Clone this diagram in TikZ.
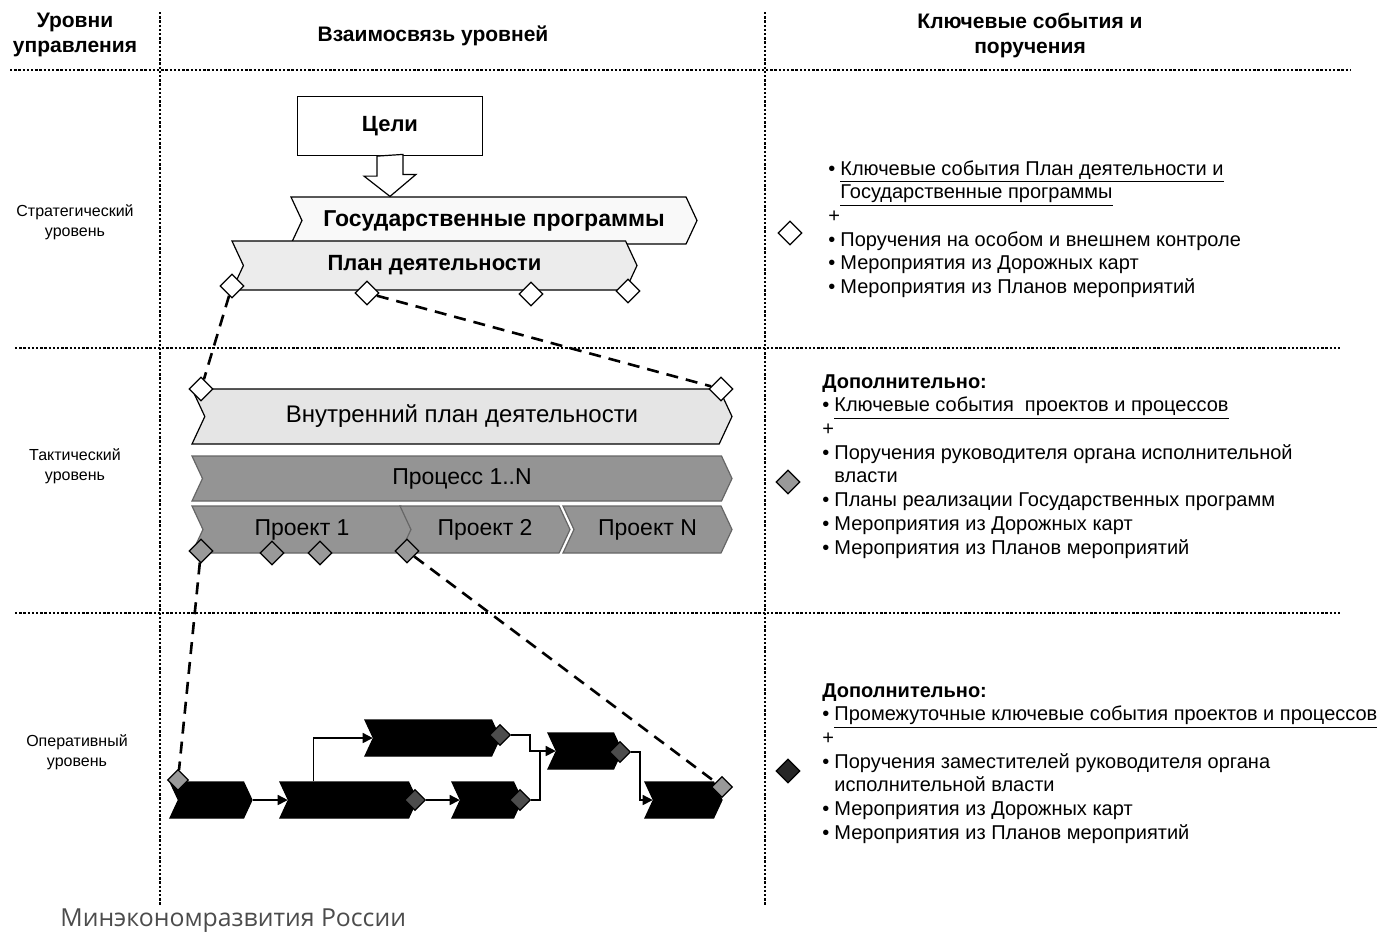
\documentclass[tikz,border=0pt]{standalone}
\usepackage{fontspec}
\setmainfont{Liberation Sans}
\newfontfamily\footfont{Open Sans}
\usetikzlibrary{shapes.symbols,shapes.geometric,arrows.meta}
\newcommand\bul{\makebox[6pt][l]{\textbullet}}
\newcommand\ind{\hspace*{6pt}}

\begin{document}
\begin{tikzpicture}[x=0.5pt,y=-0.5pt,
  gridline/.style={line width=0.7pt,dash pattern=on 1.2pt off 0.9pt},
  head/.style={font=\fontsize{10.5}{12.5}\selectfont\bfseries,align=center},
  level/.style={font=\fontsize{8}{10}\selectfont,align=center},
  chev/.style={signal,signal from=west,signal to=east,signal pointer angle=130,inner sep=0pt,line width=0.6pt},
  topbar/.style={chev,draw,fill=gray!10},
  procbar/.style={chev,draw=black!60,fill=black!42,minimum height=22.5pt,font=\fontsize{11.5}{13}\selectfont},
  taskbar/.style={chev,draw,fill=black,minimum height=18pt},
  wdiam/.style={diamond,draw,fill=white,inner sep=0pt,minimum size=12pt,line width=0.6pt},
  gdiam/.style={wdiam,fill=black!40},
  kdiam/.style={wdiam,fill=black!70,minimum size=10.5pt},
  linkline/.style={line width=1.3pt,dash pattern=on 6pt off 4pt},
  flowline/.style={line width=0.8pt,-{Triangle[length=5pt,width=5pt]}},
  notes/.style={anchor=north west,inner sep=0pt,align=left,font=\fontsize{10}{11.85}\selectfont}]
  \useasboundingbox (0,0) rectangle (1385,934);

  \draw[gridline] (10,70) -- (1350,70);
  \draw[gridline] (15,348) -- (1340,348);
  \draw[gridline] (15,613) -- (1340,613);
  \draw[gridline] (160,12) -- (160,905);
  \draw[gridline] (765,12) -- (765,905);

  \node[head] (hlevels) at (75,35) {Уровни\\управления};
  \node[head] (hlink) at (433,36) {Взаимосвязь уровней};
  \node[head] (hevents) at (1030,35) {Ключевые события и\\поручения};

  \node[level] (strat) at (75,222) {Стратегический\\уровень};
  \node[level] (tact) at (75,466) {Тактический\\уровень};
  \node[level] (oper) at (77,752) {Оперативный\\уровень};

  \node[draw,fill=white,minimum width=92.5pt,minimum height=29.5pt,inner sep=0pt,line width=0.6pt,
    font=\fontsize{11}{13}\selectfont\bfseries] (goals) at (390,126) {Цели};
  \node[topbar,fill=gray!5,minimum width=203pt,minimum height=23.5pt,
    font=\fontsize{11.5}{13}\selectfont\bfseries] (govprog) at (494,220.5) {Государственные программы};
  \node[topbar,fill=gray!15,minimum width=202.5pt,minimum height=24.5pt,
    font=\fontsize{11}{13}\selectfont\bfseries] (plan) at (434.5,265.5) {План деятельности};
  \draw[fill=white,line width=0.6pt] ([xshift=-6.5pt]goals.south) -- ++(0,20) -- ++(-13,0)
    -- (goals.south |- govprog.north) -- ++(26,-22) -- ++(-13,0) -- ++(0,-20) -- cycle;

  \node[wdiam] (pd1) at (232,286) {};
  \node[wdiam] (pd2) at (367,293) {};
  \node[wdiam] (pd3) at (531,294) {};
  \node[wdiam] (pd4) at (628,291) {};

  \node[topbar,fill=gray!20,minimum width=270pt,minimum height=27.5pt,
    font=\fontsize{12}{14}\selectfont] (intplan) at (462,416.5) {Внутренний план деятельности};
  \node[procbar,minimum width=270pt] (process) at (462,478.5) {Процесс 1..N};
  \node[procbar,minimum width=110pt,minimum height=23.5pt] (proj1) at (302,529.5) {Проект 1};
  \node[procbar,minimum width=85pt,minimum height=23.5pt] (proj2) at (485,529.5) {Проект 2};
  \node[procbar,minimum width=84.5pt,minimum height=23.5pt] (projn) at (647.5,529.5) {Проект N};

  \node[wdiam] (ip1) at (201,389) {};
  \node[wdiam] (ip2) at (721,389) {};
  \node[gdiam] (pj1) at (201,551) {};
  \node[gdiam] (pj2) at (272,553) {};
  \node[gdiam] (pj3) at (320,553) {};
  \node[gdiam] (pj4) at (407,551) {};

  \node[taskbar,minimum width=41pt] (ta) at (211,800) {};
  \node[taskbar,minimum width=68.5pt] (tb) at (348.5,800) {};
  \node[taskbar,minimum width=67.5pt] (tc) at (432.5,738) {};
  \node[taskbar,minimum width=35pt] (td) at (487,800) {};
  \node[taskbar,minimum width=37pt] (te) at (585,751) {};
  \node[taskbar,minimum width=38.5pt] (tf) at (683.5,800) {};

  \node[gdiam,minimum size=10.5pt] (oa) at (178,780) {};
  \node[kdiam] (bd) at (415,800) {};
  \node[kdiam] (cd) at (500,735) {};
  \node[kdiam] (dd) at (520,800) {};
  \node[kdiam] (ed) at (620,752) {};
  \node[gdiam,minimum size=10.5pt] (of) at (722,787) {};

  \draw[flowline] (ta) -- (tb);
  \draw[flowline] ([xshift=-17.5pt]tb.north) |- (tc.west);
  \draw[flowline] (bd) -- (td.west);
  \draw[flowline] (cd) -- ++(30,0) |- (te.west);
  \draw[line width=0.8pt] (dd) -| ([xshift=-8pt]te.west);
  \draw[flowline] (ed) -- ++(20,0) |- (tf.west);

  \draw[linkline] (pd1) -- (ip1);
  \draw[linkline] (pd2) -- (ip2);
  \draw[linkline] (pj1) -- (oa);
  \draw[linkline] (pj4) -- (of);

  \node[wdiam] (lgw) at (790,233) {};
  \node[gdiam] (lgg) at (788,482) {};
  \node[wdiam,fill=black!85] (lgk) at (788,771) {};

  \node[notes] (ev1) at (828,160) {\bul\underline{Ключевые события План деятельности и}\\
    \ind\underline{Государственные программы}\\
    +\\
    \bul Поручения на особом и внешнем контроле\\
    \bul Мероприятия из Дорожных карт\\
    \bul Мероприятия из Планов мероприятий};
  \node[notes] (ev2) at (822,374) {\textbf{Дополнительно:}\\
    \bul\underline{Ключевые события\ \ проектов и процессов}\\
    +\\
    \bul Поручения руководителя органа исполнительной\\
    \ind власти\\
    \bul Планы реализации Государственных программ\\
    \bul Мероприятия из Дорожных карт\\
    \bul Мероприятия из Планов мероприятий};
  \node[notes] (ev3) at (822,683) {\textbf{Дополнительно:}\\
    \bul\underline{Промежуточные ключевые события проектов и процессов}\\
    +\\
    \bul Поручения заместителей руководителя органа\\
    \ind исполнительной власти\\
    \bul Мероприятия из Дорожных карт\\
    \bul Мероприятия из Планов мероприятий};

  \node[anchor=west,inner sep=0pt,text=black!70,font=\footfont\fontsize{12.4}{15}\selectfont]
    (ministry) at (60,921) {Минэкономразвития России};
\end{tikzpicture}
\end{document}
